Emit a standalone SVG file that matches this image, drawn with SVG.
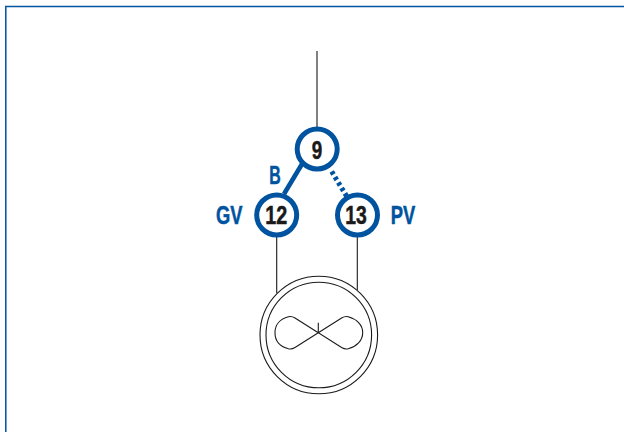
<svg xmlns="http://www.w3.org/2000/svg" width="624" height="432" viewBox="0 0 624 432">
<style>
.n{fill:#fff;stroke:#00539f;stroke-width:5}
.t{font-family:"Liberation Sans",Arial,sans-serif;font-weight:700;text-anchor:middle;font-size:25px;stroke-width:.5}
.num{fill:#1a1a1a;stroke:#1a1a1a}
.lab{fill:#00539f;stroke:#00539f}
.k{fill:none;stroke:#1a1a1a;stroke-width:1.100}
</style>
<rect width="624" height="432" fill="#fff"/>
<path d="M5.800 432V6.600H624" fill="none" stroke="#00539f" stroke-width="1.500"/>
<g id="connectors">
<path class="k" d="M317 51V130M276.700 235V293M357.300 235V290"/>
<path d="M302 164L284 194" fill="none" stroke="#00539f" stroke-width="4.600"/>
<path d="M331.700 171.500L346.500 196" fill="none" stroke="#00539f" stroke-width="5" stroke-dasharray="3.400 3"/>
</g>
<g id="motor">
<circle class="k" cx="318.800" cy="335" r="58.800"/>
<circle class="k" cx="318.800" cy="335" r="52.800"/>
<path class="k" d="M318.300 332.700L295 318Q291.700 316 288.500 316.800C280 319 275 325 275 332.700C275 340.500 280 346.500 288.500 348.800Q291.700 349.500 295 347.500L341.600 318Q345 316 348.200 316.800C356.600 319 362.700 325 362.700 332.700C362.700 340.500 356.600 346.500 348.200 348.800Q345 349.500 341.600 347.500L318.300 332.700V322.700"/>
</g>
<g id="node-9"><circle class="n" cx="317.200" cy="149" r="20"/><text class="t num" x="317" y="159" textLength="10.500" lengthAdjust="spacingAndGlyphs">9</text></g>
<g id="node-12"><circle class="n" cx="276.700" cy="215" r="20"/><text class="t num" x="276.200" y="224" textLength="22" lengthAdjust="spacingAndGlyphs">12</text></g>
<g id="node-13"><circle class="n" cx="357.500" cy="215" r="20"/><text class="t num" x="356" y="224" textLength="21.500" lengthAdjust="spacingAndGlyphs">13</text></g>
<text class="t lab" id="label-b" x="275" y="184" textLength="11.500" lengthAdjust="spacingAndGlyphs">B</text>
<text class="t lab" id="label-gv" x="229.300" y="223.500" textLength="26.500" lengthAdjust="spacingAndGlyphs">GV</text>
<text class="t lab" id="label-pv" x="403" y="223.500" textLength="24.500" lengthAdjust="spacingAndGlyphs">PV</text>
</svg>
